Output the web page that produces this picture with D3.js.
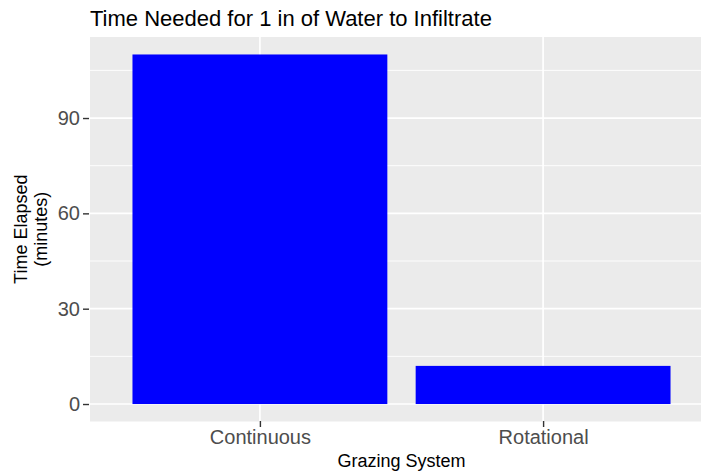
<!DOCTYPE html>
<html>
<head>
<meta charset="utf-8">
<script src="https://cdn.jsdelivr.net/npm/d3@7"></script>
<style>
  body { margin: 0; background: #fff; }
  svg { display: block; font-family: "Liberation Sans", Arial, sans-serif; }
</style>
</head>
<body>
<svg id="chart" width="701" height="471"></svg>
<script>
var categories = ["Continuous", "Rotational"];
var minutes = [110, 12];
var yTicks = [0, 30, 60, 90];
var yMinor = [15, 45, 75, 105];

var svg = d3.select("#chart");

// panel runs a bit past the right edge, as in the picture
var LEFT = 90, RIGHT = 713, TOP = 37, BOTTOM = 421.5;

var ymax = d3.max(minutes);
var y = d3.scaleLinear()
  .domain([-ymax * 0.05, ymax * 1.05])
  .range([BOTTOM, TOP]);

// discrete axis: 0.6 unit padding each side, bars 0.9 wide
var step = (RIGHT - LEFT) / (categories.length - 1 + 1.2);
var x = d3.scalePoint()
  .domain(categories)
  .range([LEFT + 0.6 * step, RIGHT - 0.6 * step]);

svg.append("rect")
  .attr("x", LEFT).attr("y", TOP)
  .attr("width", RIGHT - LEFT).attr("height", BOTTOM - TOP)
  .attr("fill", "#EBEBEB");

var grid = svg.append("g");
grid.selectAll(".minor").data(yMinor).enter().append("line")
  .attr("x1", LEFT).attr("x2", RIGHT)
  .attr("y1", function(d){ return y(d); })
  .attr("y2", function(d){ return y(d); })
  .attr("stroke", "#fff").attr("stroke-width", 0.9);
grid.selectAll(".major").data(yTicks).enter().append("line")
  .attr("x1", LEFT).attr("x2", RIGHT)
  .attr("y1", function(d){ return y(d); })
  .attr("y2", function(d){ return y(d); })
  .attr("stroke", "#fff").attr("stroke-width", 1.7);
grid.selectAll(".xmajor").data(categories).enter().append("line")
  .attr("x1", function(d){ return x(d); })
  .attr("x2", function(d){ return x(d); })
  .attr("y1", TOP).attr("y2", BOTTOM)
  .attr("stroke", "#fff").attr("stroke-width", 1.7);

svg.selectAll(".bar").data(minutes).enter().append("rect")
  .attr("x", function(d, i){ return x(categories[i]) - 0.45 * step; })
  .attr("width", 0.9 * step)
  .attr("y", function(d){ return y(d); })
  .attr("height", function(d){ return y(0) - y(d); })
  .attr("fill", "#0000FF");

var yAxis = d3.axisLeft(y).tickValues(yTicks).tickSize(6).tickPadding(3);
var gy = svg.append("g")
  .attr("transform", "translate(" + (LEFT - 1) + ",0)")
  .call(yAxis);
gy.select(".domain").remove();
gy.selectAll("line").attr("stroke", "#333").attr("stroke-width", 1.4);
gy.selectAll("text").attr("fill", "#4D4D4D").style("font-size", "20px");

var xAxis = d3.axisBottom(x).tickSize(6).tickPadding(3);
var gx = svg.append("g")
  .attr("transform", "translate(0," + (BOTTOM - 0.5) + ")")
  .call(xAxis);
gx.select(".domain").remove();
gx.selectAll("line").attr("stroke", "#333").attr("stroke-width", 1.4);
gx.selectAll("text").attr("fill", "#4D4D4D").style("font-size", "20px");

svg.append("text")
  .attr("x", LEFT).attr("y", 26)
  .attr("fill", "#000").style("font-size", "22px")
  .text("Time Needed for 1 in of Water to Infiltrate");

svg.append("text")
  .attr("x", (LEFT + RIGHT) / 2).attr("y", 467)
  .attr("text-anchor", "middle")
  .attr("fill", "#000").style("font-size", "18px")
  .text("Grazing System");

var yl = svg.append("text")
  .attr("transform", "translate(0," + (TOP + BOTTOM) / 2 + ") rotate(-90)")
  .attr("text-anchor", "middle")
  .attr("fill", "#000").style("font-size", "18px");
yl.append("tspan").attr("x", 0).attr("y", 27).text("Time Elapsed");
yl.append("tspan").attr("x", 0).attr("y", 47).text("(minutes)");
</script>
</body>
</html>
